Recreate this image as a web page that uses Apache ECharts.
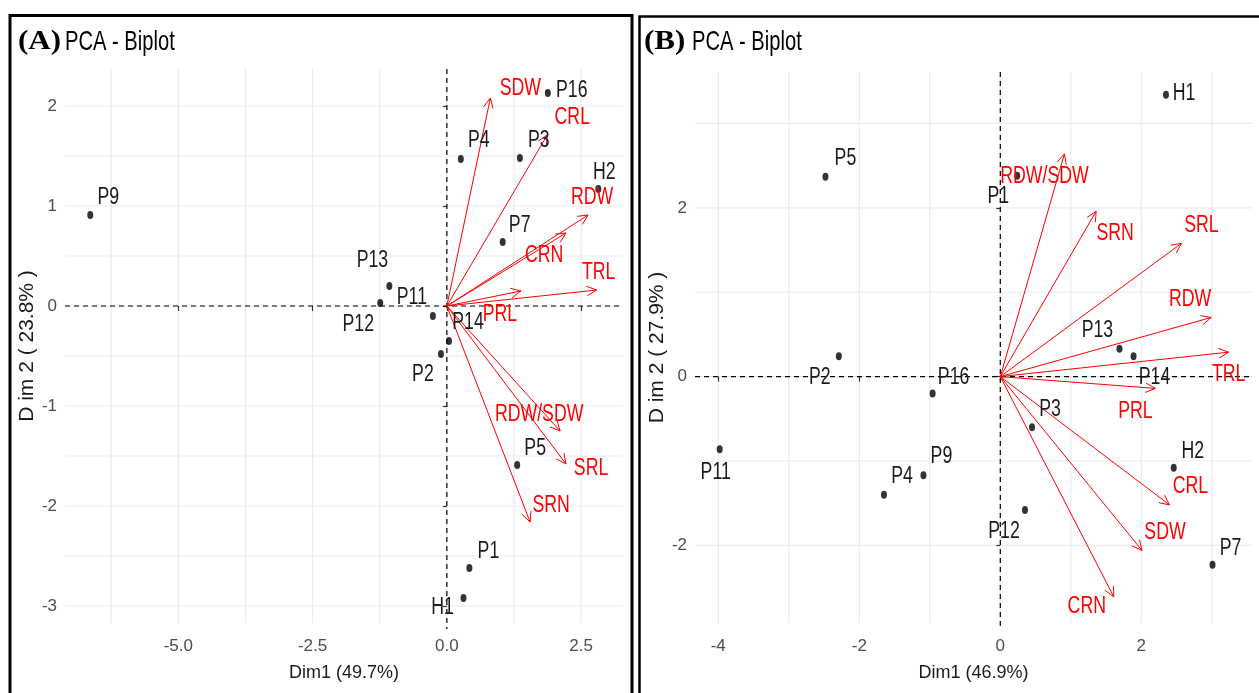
<!DOCTYPE html>
<html><head><meta charset="utf-8">
<script src="https://cdn.jsdelivr.net/npm/echarts@6/dist/echarts.min.js"></script>
<style>html,body{margin:0;padding:0;background:#fff}#c{width:1259px;height:693px}</style>
</head><body><div id="c"></div>
<script>
// ---------- Panel A data ----------
const pointNamesA = ['P9','P16','P4','P3','H2','P7','P13','P12','P11','P14','P2','P5','P1','H1'];
const pointDim1A  = [-6.64,1.88,0.26,1.36,2.82,1.04,-1.07,-1.24,-0.26,0.04,-0.11,1.31,0.42,0.31];
const pointDim2A  = [0.91,2.13,1.47,1.48,1.17,0.64,0.20,0.03,-0.10,-0.35,-0.48,-1.59,-2.62,-2.92];
const varNamesA = ['SDW','CRL','RDW','CRN','TRL','PRL','RDW/SDW','SRL','SRN'];
const varDim1A  = [0.81,1.87,2.63,2.22,2.79,1.38,2.11,2.22,1.55];
const varDim2A  = [2.08,1.71,0.91,0.73,0.16,0.15,-1.25,-1.58,-2.16];
const xTicksA = [-5,-2.5,0,2.5];
const yTicksA = [-3,-2,-1,0,1,2];
const xGridA = [-6.25,-5,-3.75,-2.5,-1.25,0,1.25,2.5];
const yGridA = [-3,-2.5,-2,-1.5,-1,-0.5,0,0.5,1,1.5,2];

// ---------- Panel B data ----------
const pointNamesB = ['H1','P5','P1','P2','P16','P13','P14','P3','P11','P9','P4','P12','H2','P7'];
const pointDim1B  = [2.35,-2.48,0.24,-2.29,-0.96,1.69,1.89,0.45,-3.98,-1.09,-1.65,0.35,2.46,3.01];
const pointDim2B  = [3.34,2.37,2.38,0.24,-0.20,0.33,0.24,-0.60,-0.86,-1.17,-1.40,-1.58,-1.08,-2.23];
const varNamesB = ['RDW/SDW','SRN','SRL','RDW','TRL','PRL','CRL','SDW','CRN'];
const varDim1B  = [0.91,1.36,2.57,2.99,3.24,2.20,2.40,2.01,1.61];
const varDim2B  = [2.64,1.96,1.58,0.70,0.29,-0.14,-1.52,-2.06,-2.61];
const xTicksB = [-4,-2,0,2];
const yTicksB = [-2,0,2];
const xGridB = [-4,-3,-2,-1,0,1,2,3];
const yGridB = [-2,-1,0,1,2,3];

// ---------- label nudges (layout, pixels) ----------
const nudgePtA = {P9:[18,-17],P16:[24,-2],P4:[18,-18],P3:[19,-17],H2:[6,-16],P7:[17,-16],P13:[-17,-25],
  P12:[-22,22],P11:[-21,-18],P14:[19,-18],P2:[-18,21],P5:[18,-16],P1:[19,-16],H1:[-21,10]};
const nudgeVarA = {'SDW':[30,-9],'CRL':[25,-17],'RDW':[4,-17],'CRN':[-22,23],'TRL':[2,-17],'PRL':[-21,24],
  'RDW/SDW':[-21,-16],'SRL':[25,5],'SRN':[21,-16]};
const nudgePtB = {H1:[18,-1],P5:[20,-18],P1:[-19,21],P2:[-19,21],P16:[21,-16],P13:[-22,-18],P14:[21,21],
  P3:[18,-18],P11:[-4,23],P9:[18,-19],P4:[18,-18],P12:[-21,22],H2:[19,-16],P7:[18,-16]};
const nudgeVarB = {'RDW/SDW':[-20,23],'SRN':[19,22],'SRL':[20,-18],'RDW':[-21,-18],'TRL':[0,23],'PRL':[-20,23],
  'CRL':[21,-18],'SDW':[23,-18],'CRN':[-27,10]};

const FONT = '"Liberation Sans",Arial,sans-serif';
const SERIF = '"Liberation Serif","Times New Roman",serif';
const GRIDC = '#ebebeb';
const SQUEEZE = 0.77;   // the reference text is horizontally condensed

function gridLines(gi, xs, ys) {
  const data = xs.map(v => [v, 0, 0]).concat(ys.map(v => [0, v, 1]));
  return {
    type: 'custom', xAxisIndex: gi, yAxisIndex: gi, silent: true, z: 0, clip: false,
    data: data, encode: {x: 0, y: 1},
    renderItem: function (params, api) {
      const cs = params.coordSys;
      const p = api.coord([api.value(0), api.value(1)]);
      const shape = api.value(2) === 0
        ? {x1: p[0], y1: cs.y, x2: p[0], y2: cs.y + cs.height}
        : {x1: cs.x, y1: p[1], x2: cs.x + cs.width, y2: p[1]};
      return {type: 'line', shape: shape, style: {stroke: GRIDC, lineWidth: 1.2}};
    }
  };
}
function zeroLines(gi) {
  return {
    type: 'custom', xAxisIndex: gi, yAxisIndex: gi, silent: true, z: 1, clip: false,
    data: [[0, 0, 0], [0, 0, 1]], encode: {x: 0, y: 1},
    renderItem: function (params, api) {
      const cs = params.coordSys;
      const p = api.coord([0, 0]);
      const shape = api.value(2) === 0
        ? {x1: p[0], y1: cs.y, x2: p[0], y2: cs.y + cs.height + 6}
        : {x1: cs.x, y1: p[1], x2: cs.x + cs.width, y2: p[1]};
      return {type: 'line', shape: shape, style: {stroke: '#000', lineWidth: 1.2, lineDash: [5, 4]}};
    }
  };
}
function arrows(gi, xs, ys) {
  return {
    type: 'custom', xAxisIndex: gi, yAxisIndex: gi, silent: true, z: 4, clip: false,
    data: xs.map((v, i) => [v, ys[i]]), encode: {x: 0, y: 1},
    renderItem: function (params, api) {
      const o = api.coord([0, 0]);
      const t = api.coord([api.value(0), api.value(1)]);
      const ang = Math.atan2(t[1] - o[1], t[0] - o[0]);
      const L = 11, a = Math.PI / 7;
      const p1 = [t[0] - L * Math.cos(ang - a), t[1] - L * Math.sin(ang - a)];
      const p2 = [t[0] - L * Math.cos(ang + a), t[1] - L * Math.sin(ang + a)];
      return {type: 'group', children: [
        {type: 'line', shape: {x1: o[0], y1: o[1], x2: t[0], y2: t[1]}, style: {stroke: '#ff0000', lineWidth: 1}},
        {type: 'polyline', shape: {points: [p1, t, p2]}, style: {stroke: '#ff0000', fill: null, lineWidth: 1}}
      ]};
    }
  };
}
function points(gi, names, xs, ys) {
  return {
    type: 'scatter', xAxisIndex: gi, yAxisIndex: gi, z: 6, silent: true,
    symbol: 'circle', symbolSize: [6, 8], itemStyle: {color: '#000'},
    data: names.map((n, i) => ({name: n, value: [xs[i], ys[i]]}))
  };
}
// condensed text labels placed at data points through the axes
function textLabels(gi, names, xs, ys, nudge, color) {
  return {
    type: 'custom', xAxisIndex: gi, yAxisIndex: gi, silent: true, z: 7, clip: false,
    data: names.map((n, i) => [xs[i], ys[i], i]), encode: {x: 0, y: 1},
    renderItem: function (params, api) {
      const p = api.coord([api.value(0), api.value(1)]);
      const n = names[api.value(2)];
      const d = nudge[n] || [0, 0];
      return {type: 'text', x: p[0] + d[0], y: p[1] + d[1], scaleX: SQUEEZE, scaleY: 1,
        style: {text: n, x: 0, y: 0, align: 'center', verticalAlign: 'middle',
          fontFamily: FONT, fontSize: 23, fill: color}};
    }
  };
}
function xAxis(gi, min, max, ticks, fmt, name) {
  return {
    gridIndex: gi, type: 'value', min: min, max: max,
    splitLine: {show: false}, axisLine: {show: false},
    axisTick: {show: true, customValues: ticks, length: 5, lineStyle: {color: '#333', width: 1.2}},
    axisLabel: {customValues: ticks, formatter: fmt, color: '#4d4d4d', fontFamily: FONT, fontSize: 17, margin: 15},
    name: name, nameLocation: 'middle', nameGap: 41,
    nameTextStyle: {color: '#1a1a1a', fontFamily: FONT, fontSize: 18}
  };
}
function yAxis(gi, min, max, ticks, name, gap) {
  return {
    gridIndex: gi, type: 'value', min: min, max: max,
    splitLine: {show: false}, axisLine: {show: false},
    axisTick: {show: true, customValues: ticks, length: 4, lineStyle: {color: '#333', width: 1.2}},
    axisLabel: {customValues: ticks, formatter: v => String(v), color: '#4d4d4d', fontFamily: FONT, fontSize: 17, margin: 8},
    name: name, nameLocation: 'middle', nameGap: gap, nameRotate: 90,
    nameTextStyle: {color: '#1a1a1a', fontFamily: FONT, fontSize: 21}
  };
}
function titleParts(x, letter, restX) {
  return [
    {type: 'text', x: x, y: 42, z: 100, scaleX: 1.15, style: {text: letter, fontFamily: SERIF, fontWeight: 'bold',
      fontSize: 27, fill: '#000', align: 'left', verticalAlign: 'middle'}},
    {type: 'text', x: restX, y: 42, z: 100, scaleX: 0.72, style: {text: 'PCA - Biplot', fontFamily: FONT,
      fontSize: 28, fill: '#000', align: 'left', verticalAlign: 'middle'}}
  ];
}

const chart = echarts.init(document.getElementById('c'), null, {renderer: 'canvas'});
chart.setOption({
  animation: false,
  backgroundColor: '#fff',
  grid: [
    {left: 65, top: 69, width: 558, height: 554},
    {left: 695, top: 72, width: 557, height: 551}
  ],
  xAxis: [
    xAxis(0, -7.11, 3.28, xTicksA, v => v.toFixed(1), 'Dim1 (49.7%)'),
    xAxis(1, -4.33, 3.57, xTicksB, v => String(v), 'Dim1 (46.9%)')
  ],
  yAxis: [
    yAxis(0, -3.17, 2.37, yTicksA, 'D im 2 ( 23.8% )', 24),
    yAxis(1, -2.92, 3.61, yTicksB, 'D im 2 ( 27.9% )', 27)
  ],
  graphic: [
    {type: 'rect', shape: {x: 10, y: 15.5, width: 622, height: 700}, style: {fill: null, stroke: '#000', lineWidth: 3}, z: 100},
    {type: 'rect', shape: {x: 639.5, y: 16.5, width: 640, height: 700}, style: {fill: null, stroke: '#000', lineWidth: 2.5}, z: 100}
  ].concat(titleParts(18, '(A)', 65)).concat(titleParts(644, '(B)', 692)),
  series: [
    gridLines(0, xGridA, yGridA), zeroLines(0), arrows(0, varDim1A, varDim2A),
    points(0, pointNamesA, pointDim1A, pointDim2A),
    textLabels(0, pointNamesA, pointDim1A, pointDim2A, nudgePtA, '#1a1a1a'),
    textLabels(0, varNamesA, varDim1A, varDim2A, nudgeVarA, '#ff0000'),
    gridLines(1, xGridB, yGridB), zeroLines(1), arrows(1, varDim1B, varDim2B),
    points(1, pointNamesB, pointDim1B, pointDim2B),
    textLabels(1, pointNamesB, pointDim1B, pointDim2B, nudgePtB, '#1a1a1a'),
    textLabels(1, varNamesB, varDim1B, varDim2B, nudgeVarB, '#ff0000')
  ]
});
</script></body></html>
